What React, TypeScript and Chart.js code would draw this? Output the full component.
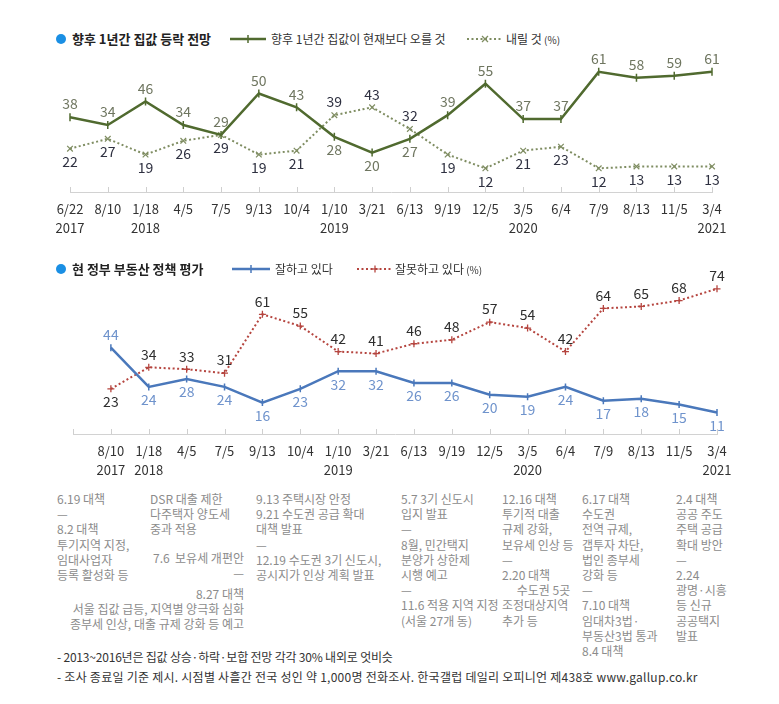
import React, { useEffect, useRef } from 'react';
import { Chart, registerables } from 'chart.js';
Chart.register(...registerables);

const FONT = "'Noto Sans CJK KR', 'Noto Sans', sans-serif";

// ---- Top chart data ----
const topLabels: string[][] = [
  ['6/22', '2017'], ['8/10', ''], ['1/18', '2018'], ['4/5', ''], ['7/5', ''], ['9/13', ''],
  ['10/4', ''], ['1/10', '2019'], ['3/21', ''], ['6/13', ''], ['9/19', ''], ['12/5', ''],
  ['3/5', '2020'], ['6/4', ''], ['7/9', ''], ['8/13', ''], ['11/5', ''], ['3/4', '2021'],
];
const riseValues = [38, 34, 46, 34, 29, 50, 43, 28, 20, 27, 39, 55, 37, 37, 61, 58, 59, 61];
const fallValues = [22, 27, 19, 26, 29, 19, 21, 39, 43, 32, 19, 12, 21, 23, 12, 13, 13, 13];

// ---- Bottom chart data ----
const bottomLabels: string[][] = [
  ['', ''], ['8/10', '2017'], ['1/18', '2018'], ['4/5', ''], ['7/5', ''], ['9/13', ''],
  ['10/4', ''], ['1/10', '2019'], ['3/21', ''], ['6/13', ''], ['9/19', ''], ['12/5', ''],
  ['3/5', '2020'], ['6/4', ''], ['7/9', ''], ['8/13', ''], ['11/5', ''], ['3/4', '2021'],
];
const goodValues = [null, 44, 24, 28, 24, 16, 23, 32, 32, 26, 26, 20, 19, 24, 17, 18, 15, 11];
const badValues = [null, 23, 34, 33, 31, 61, 55, 42, 41, 46, 48, 57, 54, 42, 64, 65, 68, 74];

const topTitle = '향후 1년간 집값 등락 전망';
const topSeriesNames = ['향후 1년간 집값이 현재보다 오를 것', '내릴 것'];
const bottomTitle = '현 정부 부동산 정책 평가';
const bottomSeriesNames = ['잘하고 있다', '잘못하고 있다'];

const notes: { left?: number; right?: number; top: number; lines: string[]; align?: string }[] = [
  { left: 57, top: 491, lines: ['6.19 대책', '—', '8.2 대책', '투기지역 지정,', '임대사업자', '등록 활성화 등'] },
  { left: 150, top: 491, lines: ['DSR 대출 제한', '다주택자 양도세', '중과 적용'] },
  { right: 535, top: 550, align: 'right', lines: ['7.6  보유세 개편안', '—'] },
  { right: 535, top: 586, align: 'right', lines: ['8.27 대책', '서울 집값 급등, 지역별 양극화 심화', '종부세 인상, 대출 규제 강화 등 예고'] },
  { left: 256, top: 491, lines: ['9.13 주택시장 안정', '9.21 수도권 공급 확대', '대책 발표', '—', '12.19 수도권 3기 신도시,', '공시지가 인상 계획 발표'] },
  { left: 401, top: 491, lines: ['5.7 3기 신도시', '입지 발표', '—', '8월, 민간택지', '분양가 상한제', '시행 예고', '—', '11.6 적용 지역 지정', '(서울 27개 동)'] },
  { left: 502, top: 491, lines: ['12.16 대책', '투기적 대출', '규제 강화,', '보유세 인상 등', '—', '2.20 대책', '\u2003 수도권 5곳', '조정대상지역', '추가 등'] },
  { left: 582, top: 491, lines: ['6.17 대책', '수도권', '전역 규제,', '갭투자 차단,', '법인 종부세', '강화 등', '—', '7.10 대책', '임대차3법·', '부동산3법 통과', '8.4 대책'] },
  { left: 676, top: 491, lines: ['2.4 대책', '공공 주도', '주택 공급', '확대 방안', '—', '2.24', '광명·시흥', '등 신규', '공공택지', '발표'] },
];
const footnotes = [
  '- 2013~2016년은 집값 상승·하락·보합 전망 각각 30% 내외로 엇비슷',
  '- 조사 종료일 기준 제시. 시점별 사흘간 전국 성인 약 1,000명 전화조사. 한국갤럽 데일리 오피니언 제438호 www.gallup.co.kr',
];
const footnoteSpacing = ['-0.2px', '0.25px'];

const valueLabelPlugin = {
  id: 'valueLabels',
  afterDatasetsDraw(chart: any, _args: any, opts: any) {
    const ctx = chart.ctx;
    const ds = chart.data.datasets;
    ctx.save();
    ctx.font = `${opts.size || 14}px ${FONT}`;
    ctx.textAlign = 'center';
    ctx.textBaseline = 'middle';
    ds.forEach((d: any, i: number) => {
      const meta = chart.getDatasetMeta(i);
      const other = ds[1 - i].data;
      d.data.forEach((v: any, j: number) => {
        if (v === null || v === undefined) return;
        const o = other[j];
        const above = v > o || (v === o && i === 0);
        const pt = meta.data[j];
        ctx.fillStyle = opts.colors[i];
        ctx.fillText(String(v), pt.x, above ? pt.y - (opts.offA || 13) : pt.y + (opts.offB || 13));
      });
    });
    ctx.restore();
  },
};

const tickMarkPlugin = {
  id: 'tickMarks',
  afterDraw(chart: any) {
    const ctx = chart.ctx;
    const xs = chart.scales.x;
    const b = chart.chartArea.bottom;
    ctx.save();
    ctx.strokeStyle = '#cfcfcf';
    ctx.lineWidth = 1;
    ctx.beginPath();
    for (let i = 0; i < chart.data.labels.length; i++) {
      const x = Math.round(xs.getPixelForValue(i)) + 0.5;
      ctx.moveTo(x, b - 5);
      ctx.lineTo(x, b);
    }
    ctx.stroke();
    ctx.restore();
  },
};

function makeOptions(padLeft: number, padRight: number, padTop: number, yMax: number, labelColors: string[]) {
  return {
    responsive: false,
    maintainAspectRatio: false,
    animation: false,
    layout: { padding: { left: padLeft, right: padRight, top: padTop, bottom: 3 } },
    plugins: {
      legend: { display: false },
      tooltip: { enabled: false },
      valueLabels: { colors: labelColors, size: 14 },
    },
    scales: {
      x: {
        offset: false,
        grid: { display: false, drawTicks: false },
        border: { display: true, color: '#d2d2d2', width: 1 },
        ticks: {
          color: '#333',
          font: { size: 13, family: FONT, lineHeight: 1.5 },
          padding: 7,
          maxRotation: 0,
          autoSkip: false,
        },
        afterFit: (s: any) => { s.height = 45; },
      },
      y: { display: false, min: 0, max: yMax },
    },
  };
}

function TopChart() {
  const ref = useRef<HTMLCanvasElement>(null);
  useEffect(() => {
    const chart = new Chart(ref.current as HTMLCanvasElement, {
      type: 'line',
      data: {
        labels: topLabels,
        datasets: [
          {
            data: riseValues,
            borderColor: '#506a2f',
            backgroundColor: '#506a2f',
            borderWidth: 2.5,
            pointStyle: 'line',
            rotation: 90,
            pointRadius: 4,
            pointBorderWidth: 1.5,
            tension: 0,
          },
          {
            data: fallValues,
            borderColor: '#7f8d62',
            backgroundColor: '#7f8d62',
            borderWidth: 2,
            borderDash: [2, 2.5],
            pointStyle: 'crossRot',
            pointRadius: 4,
            pointBorderWidth: 1.2,
            tension: 0,
          },
        ],
      },
      options: makeOptions(70, 67, 12, 66, ['#6f7660', '#2e3040']) as any,
      plugins: [valueLabelPlugin, tickMarkPlugin],
    });
    return () => chart.destroy();
  }, []);
  return <canvas ref={ref} width={779} height={190} style={{ position: 'absolute', left: 0, top: 50, display: 'block' }} />;
}

function BottomChart() {
  const ref = useRef<HTMLCanvasElement>(null);
  useEffect(() => {
    const chart = new Chart(ref.current as HTMLCanvasElement, {
      type: 'line',
      data: {
        labels: bottomLabels,
        datasets: [
          {
            data: goodValues,
            borderColor: '#4a78bb',
            backgroundColor: '#4a78bb',
            borderWidth: 2.5,
            pointStyle: 'line',
            rotation: 90,
            pointRadius: 3.5,
            pointBorderWidth: 1.5,
            tension: 0,
          },
          {
            data: badValues,
            borderColor: '#b5453f',
            backgroundColor: '#b5453f',
            borderWidth: 2,
            borderDash: [2, 2.5],
            pointStyle: 'cross',
            pointRadius: 3.5,
            pointBorderWidth: 1.3,
            tension: 0,
          },
        ],
      },
      options: makeOptions(73, 62, 12, 80, ['#6f93cc', '#2e2e2e']) as any,
      plugins: [valueLabelPlugin, tickMarkPlugin],
    });
    return () => chart.destroy();
  }, []);
  return <canvas ref={ref} width={779} height={217} style={{ position: 'absolute', left: 0, top: 265, display: 'block' }} />;
}

function LegendSample({ left, top, width, color, dashed, marker }: any) {
  const mid = width / 2;
  return (
    <svg style={{ position: 'absolute', left, top: top - 6 }} width={width} height={12}>
      <line x1={0} y1={6} x2={width} y2={6} stroke={color} strokeWidth={dashed ? 2 : 2.5} strokeDasharray={dashed ? '2 2.5' : undefined} />
      {marker === 'x' && (
        <g stroke={color} strokeWidth={1.2}>
          <line x1={mid - 3} y1={3} x2={mid + 3} y2={9} />
          <line x1={mid - 3} y1={9} x2={mid + 3} y2={3} />
        </g>
      )}
      {marker === '|' && <line x1={mid} y1={2} x2={mid} y2={10} stroke={color} strokeWidth={1.5} />}
      {marker === '+' && (
        <g stroke={color} strokeWidth={1.3}>
          <line x1={mid} y1={2.5} x2={mid} y2={9.5} />
          <line x1={mid - 3.5} y1={6} x2={mid + 3.5} y2={6} />
        </g>
      )}
    </svg>
  );
}

function Title({ top, text }: any) {
  return (
    <>
      <div style={{ position: 'absolute', left: 56, top: top - 5, width: 10, height: 10, borderRadius: 5, background: '#1a8fe4' }} />
      <div style={{ position: 'absolute', left: 72, top: top - 10, lineHeight: '20px', fontSize: 13, fontWeight: 700, color: '#222', whiteSpace: 'pre' }}>{text}</div>
    </>
  );
}

function LegendText({ left, top, text, pct }: any) {
  return (
    <div style={{ position: 'absolute', left, top: top - 10, lineHeight: '20px', fontSize: 12, color: '#333', whiteSpace: 'pre' }}>
      {text}
      {pct && <span style={{ fontSize: 10 }}> (%)</span>}
    </div>
  );
}

export default function App() {
  useEffect(() => {
    document.body.style.margin = '0';
  }, []);
  return (
    <div style={{ position: 'relative', width: 779, height: 704, fontFamily: FONT, background: '#fff', overflow: 'hidden' }}>
      <TopChart />
      <BottomChart />
      <Title top={39} text={topTitle} />
      <LegendSample left={230} top={39} width={36} color="#506a2f" marker="|" />
      <LegendText left={271} top={39} text={topSeriesNames[0]} />
      <LegendSample left={467} top={39} width={36} color="#7f8d62" dashed marker="x" />
      <LegendText left={506} top={39} text={topSeriesNames[1]} pct />

      <Title top={269} text={bottomTitle} />
      <LegendSample left={232} top={269} width={38} color="#4a78bb" marker="|" />
      <LegendText left={275} top={269} text={bottomSeriesNames[0]} />
      <LegendSample left={357} top={269} width={36} color="#b5453f" dashed marker="+" />
      <LegendText left={395} top={269} text={bottomSeriesNames[1]} pct />

      {notes.map((n, i) => (
        <div
          key={i}
          style={{
            position: 'absolute',
            left: n.left,
            right: n.right,
            top: n.top,
            fontSize: 12,
            lineHeight: '15.2px',
            color: '#8c8c8c',
            whiteSpace: 'pre',
            textAlign: (n.align as any) || 'left',
          }}
        >
          {n.lines.join('\n')}
        </div>
      ))}
      {footnotes.map((f, i) => (
        <div key={'f' + i} style={{ position: 'absolute', left: 57, top: 649 + i * 20, fontSize: 12, lineHeight: '16px', color: '#333', whiteSpace: 'pre', letterSpacing: footnoteSpacing[i] }}>
          {f}
        </div>
      ))}
    </div>
  );
}
